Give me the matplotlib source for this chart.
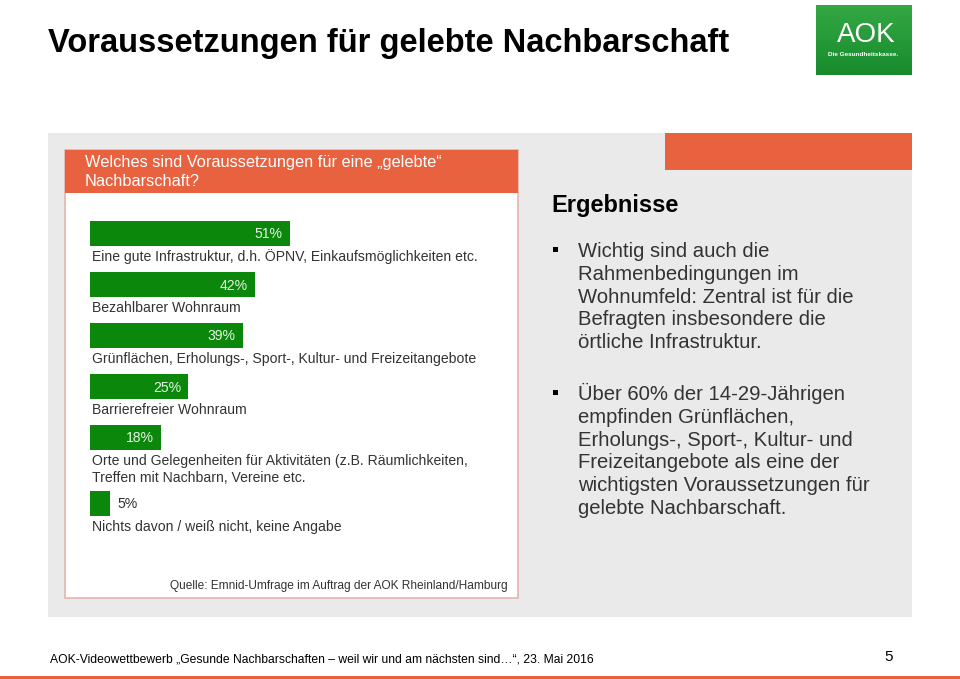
import numpy as np
import matplotlib.pyplot as plt
from matplotlib.colors import LinearSegmentedColormap
from matplotlib.patches import Rectangle

# Daten
kategorien = [
    'Eine gute Infrastruktur, d.h. ÖPNV, Einkaufsmöglichkeiten etc.',
    'Bezahlbarer Wohnraum',
    'Grünflächen, Erholungs-, Sport-, Kultur- und Freizeitangebote',
    'Barrierefreier Wohnraum',
    'Orte und Gelegenheiten für Aktivitäten (z.B. Räumlichkeiten,\nTreffen mit Nachbarn, Vereine etc.',
    'Nichts davon / weiß nicht, keine Angabe',
]
werte = [51, 42, 39, 25, 18, 5]

titel = 'Voraussetzungen für gelebte Nachbarschaft'
frage = 'Welches sind Voraussetzungen für eine „gelebte“\nNachbarschaft?'
quelle = 'Quelle: Emnid-Umfrage im Auftrag der AOK Rheinland/Hamburg'
ergebnisse = [
    'Wichtig sind auch die\nRahmenbedingungen im\nWohnumfeld: Zentral ist für die\nBefragten insbesondere die\nörtliche Infrastruktur.',
    'Über 60% der 14-29-Jährigen\nempfinden Grünflächen,\nErholungs-, Sport-, Kultur- und\nFreizeitangebote als eine der\nwichtigsten Voraussetzungen für\ngelebte Nachbarschaft.',
]
fusszeile = 'AOK-Videowettbewerb „Gesunde Nachbarschaften – weil wir und am nächsten sind…“, 23. Mai 2016'

ORANGE = '#E8623F'
GRUEN = '#0B870B'
GRAU = '#EAEAEA'
TEXT = '#333333'

plt.rcParams['font.family'] = ['Liberation Sans', 'DejaVu Sans']

fig = plt.figure(figsize=(9.6, 6.79), dpi=100)
ax = fig.add_axes([0, 0, 1, 1])
ax.set_xlim(0, 960)
ax.set_ylim(679, 0)
ax.axis('off')


def zeilen_text(x, y, text, abstand, **kw):
    # jede Zeile einzeln setzen, damit der Zeilenabstand genau passt
    for i, zeile in enumerate(text.split('\n')):
        ax.text(x, y + i * abstand, zeile, va='baseline', **kw)


# Titel
ax.text(48, 52, titel, fontsize=23.5, fontweight='bold', color='black', va='baseline', ha='left')

# AOK-Logo
verlauf = np.linspace(0, 1, 50).reshape(-1, 1)
ax.imshow(verlauf, extent=(816, 912, 75, 5), aspect='auto', zorder=1,
          cmap=LinearSegmentedColormap.from_list('g', ['#35A845', '#178A2C']))
ax.text(866, 35, 'AOK', fontsize=20, color='white', ha='center', va='center', zorder=2)
ax.text(863, 54, 'Die Gesundheitskasse.', fontsize=4.6, fontweight='bold', color='white',
        ha='center', va='center', zorder=2)

# Grauer Hintergrund
ax.add_patch(Rectangle((48, 133), 864, 484, facecolor=GRAU, edgecolor='none'))
ax.add_patch(Rectangle((665, 133), 247, 37, facecolor=ORANGE, edgecolor='none'))

# Weiße Box links
ax.add_patch(Rectangle((65, 150), 453, 448, facecolor='white', edgecolor='#E6B4AA', linewidth=1.2))
ax.add_patch(Rectangle((65, 150), 453, 43, facecolor=ORANGE, edgecolor='none'))
zeilen_text(85, 167, frage, 18.5, fontsize=11.8, color='white', ha='left')

# Balken
links = 90
px_pro_prozent = 3.92
y = 233.5
for kat, w in zip(kategorien, werte):
    ax.barh(y, w * px_pro_prozent, left=links, height=25, color=GRUEN)
    ende = links + w * px_pro_prozent
    if w >= 10:
        ax.text(ende - 7, y + 5, f'{w}%', fontsize=10.1, color='#E6F3E6', ha='right', va='baseline')
    else:
        ax.text(ende + 8, y + 5, f'{w}%', fontsize=10.1, color=TEXT, ha='left', va='baseline')
    zeilen_text(92, y + 27, kat, 17, fontsize=10.1, color=TEXT, ha='left')
    y += 51 + 15 * kat.count('\n')

ax.text(508, 589, quelle, fontsize=8.6, color=TEXT, ha='right', va='baseline')

# Ergebnisse
ax.text(551, 212, 'Ergebnisse', fontsize=17, fontweight='bold', color='black', ha='left', va='baseline')
for y0, absatz in zip([257, 400], ergebnisse):
    ax.add_patch(Rectangle((552.5, y0 - 10), 5, 5, facecolor='black', edgecolor='none'))
    zeilen_text(578, y0, absatz, 22.8, fontsize=14.6, color=TEXT, ha='left')

# Fußzeile
ax.text(50, 662.5, fusszeile, fontsize=8.7, color='black', ha='left', va='baseline')
ax.text(884, 661, '5', fontsize=11, color='black', ha='left', va='baseline')
ax.add_patch(Rectangle((0, 676), 960, 3, facecolor=ORANGE, edgecolor='none'))

fig.savefig('out.png', dpi=100)
